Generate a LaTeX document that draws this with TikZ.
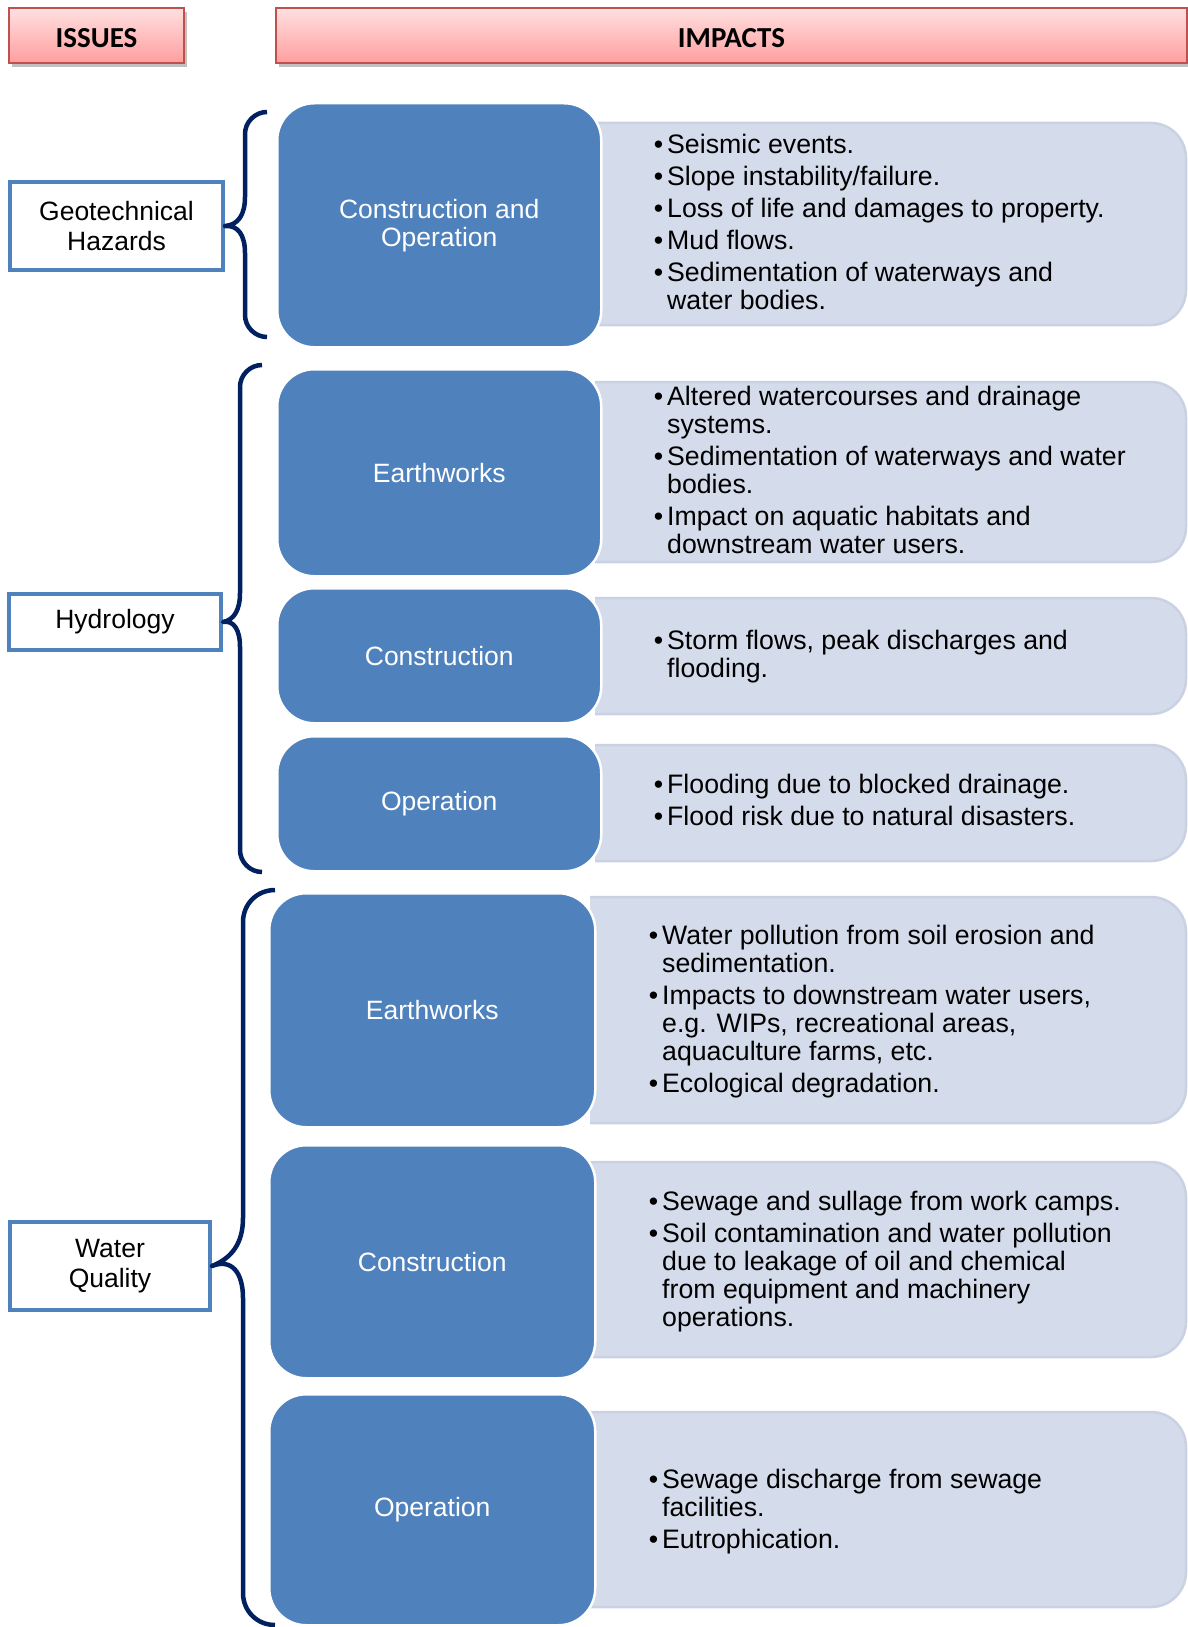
\documentclass[tikz,border=0pt]{standalone}
\usepackage{fontspec}
\setmainfont{Liberation Sans}
\newfontfamily\hdrfont{Carlito}
\usetikzlibrary{shadows}
\definecolor{blueF}{HTML}{4F81BD}
\definecolor{lightF}{HTML}{D4DBEA}
\definecolor{lightD}{HTML}{C9D1E3}
\definecolor{navy}{HTML}{002060}
\definecolor{hdrB}{HTML}{C0504D}
\definecolor{hdrT}{HTML}{FFE0E0}
\definecolor{hdrBot}{HTML}{FF9E9E}
\newcommand\bl{\llap{\textbullet\hspace{4pt}}}
\newcommand\lbox[4]{%
  \begin{scope}
    \clip (#1,#2-6) rectangle (#3+6,#4+6);
    \draw[lb] (#1-45,#2) rectangle (#3,#4);
  \end{scope}}
\begin{document}
\begin{tikzpicture}[x=1pt,y=-1pt,
  hdr/.style={draw=hdrB, line width=2pt, top color=hdrT, bottom color=hdrBot,
    font=\hdrfont\bfseries\fontsize{29}{34}\selectfont, inner sep=0pt,
    text height=25pt, text depth=0pt,
    drop shadow={shadow xshift=3pt, shadow yshift=-4pt, opacity=0.35, fill=black!70}},
  bb/.style={fill=blueF, draw=white, line width=2.5pt, rounded corners=37pt,
    text=white, align=center, font=\fontsize{26.5}{28}\selectfont, inner sep=0pt, anchor=north west},
  lb/.style={fill=lightF, draw=lightD, line width=2.5pt, rounded corners=35pt},
  txt/.style={align=left, font=\fontsize{26.7}{28}\selectfont, inner sep=0pt, anchor=north west, text=black},
  lab/.style={draw=blueF, line width=4pt, fill=white, align=center,
    font=\fontsize{26.5}{30}\selectfont, inner sep=0pt},
  br/.style={draw=navy, line width=4.5pt, line join=round}
]
\useasboundingbox (0,0) rectangle (1187,1627);

% headers
\node[hdr, minimum width=175pt, minimum height=55pt, anchor=north west] (issues) at (8,7) {ISSUES};
\node[hdr, minimum width=911pt, minimum height=55pt, anchor=north west] (impacts) at (275,7) {IMPACTS};

% light boxes
\lbox{595}{123}{1186}{325}
\lbox{595}{382}{1186}{562}
\lbox{595}{598}{1186}{714}
\lbox{595}{745}{1186}{861}
\lbox{590}{897}{1186}{1123}
\lbox{590}{1162}{1186}{1357}
\lbox{590}{1412}{1186}{1607}

% blue boxes
\node[bb, minimum width=324pt, minimum height=244pt] (b1) at (276,102) {Construction and\\Operation};
\node[bb, minimum width=324pt, minimum height=207pt] (b2) at (276,368) {Earthworks};
\node[bb, minimum width=324pt, minimum height=135pt] (b3) at (276,587) {Construction};
\node[bb, minimum width=324pt, minimum height=135pt] (b4) at (276,735) {Operation};
\node[bb, minimum width=326pt, minimum height=234pt] (b5) at (268,892) {Earthworks};
\node[bb, minimum width=326pt, minimum height=233pt] (b6) at (268,1144) {Construction};
\node[bb, minimum width=326pt, minimum height=231pt] (b7) at (268,1393) {Operation};

% impact texts
\node[txt] (t1) at (667,134) {\bl Seismic events.\\[4pt]
\bl Slope instability/failure.\\[4pt]
\bl Loss of life and damages to property.\\[4pt]
\bl Mud flows.\\[4pt]
\bl Sedimentation of waterways and\\
water bodies.};
\node[txt] (t2) at (667,386) {\bl Altered watercourses and drainage\\
systems.\\[4pt]
\bl Sedimentation of waterways and water\\
bodies.\\[4pt]
\bl Impact on aquatic habitats and\\
downstream water users.};
\node[txt] (t3) at (667,630) {\bl Storm flows, peak discharges and\\
flooding.};
\node[txt] (t4) at (667,774) {\bl Flooding due to blocked drainage.\\[4pt]
\bl Flood risk due to natural disasters.};
\node[txt] (t5) at (662,925) {\bl Water pollution from soil erosion and\\
sedimentation.\\[4pt]
\bl Impacts to downstream water users,\\
e.g. WIPs, recreational areas,\\
aquaculture farms, etc.\\[4pt]
\bl Ecological degradation.};
\node[txt] (t6) at (662,1191) {\bl Sewage and sullage from work camps.\\[4pt]
\bl Soil contamination and water pollution\\
due to leakage of oil and chemical\\
from equipment and machinery\\
operations.};
\node[txt] (t7) at (662,1469) {\bl Sewage discharge from sewage\\
facilities.\\[4pt]
\bl Eutrophication.};

% issue labels
\node[lab, minimum width=213pt, minimum height=88pt] (geo) at (116.5,226) {Geotechnical\\Hazards};
\node[lab, minimum width=212pt, minimum height=56pt] (hyd) at (115,622) {Hydrology};
\node[lab, minimum width=200pt, minimum height=88pt] (wq) at (110,1266) {Water\\Quality};

% brackets
\draw[br] (267,112) .. controls (255,112) and (245,122) .. (245,134) -- (245,197)
  .. controls (245,215) and (238,225) .. (geo.east)
  .. controls (238,225) and (245,235) .. (245,253) -- (245,315)
  .. controls (245,327) and (255,337) .. (267,337);
\draw[br] (262,365) .. controls (250,365) and (240,375) .. (240,387) -- (240,593)
  .. controls (240,610) and (234,620) .. (hyd.east)
  .. controls (234,620) and (240,630) .. (240,647) -- (240,850)
  .. controls (240,862) and (250,872) .. (262,872);
\draw[br] (275,890) .. controls (257,890) and (243,904) .. (243,922) -- (243,1218)
  .. controls (243,1243) and (232,1258) .. (wq.east)
  .. controls (232,1258) and (243,1273) .. (243,1298) -- (243,1593)
  .. controls (243,1611) and (257,1625) .. (275,1625);
\end{tikzpicture}
\end{document}
